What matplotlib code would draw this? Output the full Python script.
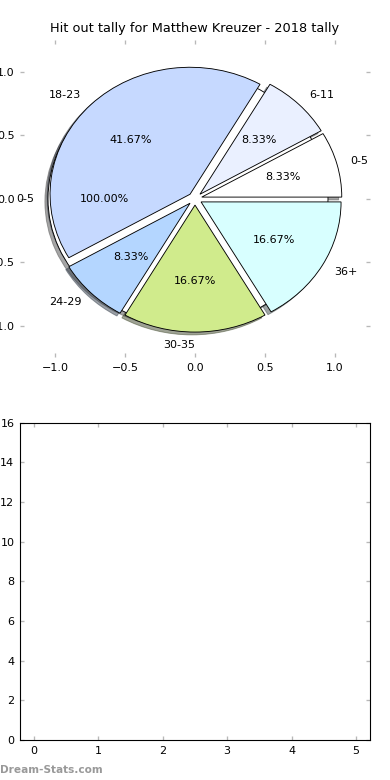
import matplotlib
matplotlib.use("Agg")
import matplotlib.pyplot as plt

# data
age_groups = ['0-5', '6-11', '18-23', '24-29', '30-35', '36+']
hitouts = [1, 1, 5, 1, 2, 2]
wedge_colors = ['#ffffff', '#eaf0ff', '#c6d9ff', '#b4d6ff', '#d0eb8c', '#d8ffff']
bar_x_ticks = [0, 1, 2, 3, 4, 5]
bar_y_ticks = [0, 2, 4, 6, 8, 10, 12, 14, 16]

plt.rcParams['font.family'] = 'DejaVu Sans'
plt.rcParams['font.size'] = 10

fig = plt.figure(figsize=(4.875, 9.75), dpi=80)
gs = fig.add_gridspec(2, 1, left=0.0513, right=0.9487, bottom=0.0513, top=0.9487, hspace=0.205)
ax = fig.add_subplot(gs[0])
ax2 = fig.add_subplot(gs[1])

wp = {'edgecolor': 'black', 'linewidth': 0.8}

# first draw: one full wedge (all in first group), sits under the exploded pie
ax.pie([sum(hitouts)], labels=[age_groups[0]], colors=[wedge_colors[0]], explode=[0.05],
       autopct='%.2f%%', shadow=True, frame=True, wedgeprops=wp)
wedges, texts, autotexts = ax.pie(hitouts, labels=age_groups, colors=wedge_colors,
                                  explode=[0.05] * len(hitouts), autopct='%.2f%%',
                                  shadow=True, frame=True, wedgeprops=wp)
# bottom label sits right of centre in the reference
texts[4].set_ha('right')

ax.set_aspect('auto')
ax.set_xlim(-1.25, 1.25)
ax.set_ylim(-1.25, 1.25)
ax.set_xticks([-1.0, -0.5, 0.0, 0.5, 1.0])
ax.set_yticks([-1.0, -0.5, 0.0, 0.5, 1.0])
for s in ax.spines.values():
    s.set_visible(False)
ax.set_title('Hit out tally for Matthew Kreuzer - 2018 tally', fontsize=11.6, pad=7)

ax2.set_xlim(-0.22, 5.22)
ax2.set_ylim(0, 16)
ax2.set_xticks(bar_x_ticks)
ax2.set_yticks(bar_y_ticks)
for s in ax2.spines.values():
    s.set_color('black')
    s.set_linewidth(1.0)

for a in (ax, ax2):
    a.tick_params(direction='in', top=True, right=True, length=4, width=1.2,
                  color='#b8b8b8', labelcolor='black', pad=5)

fig.text(0.0, 0.006, 'Dream-Stats.com', color='#999999', fontsize=9.5,
         fontweight='bold', ha='left', va='bottom')

fig.savefig('out.png', dpi=80)
